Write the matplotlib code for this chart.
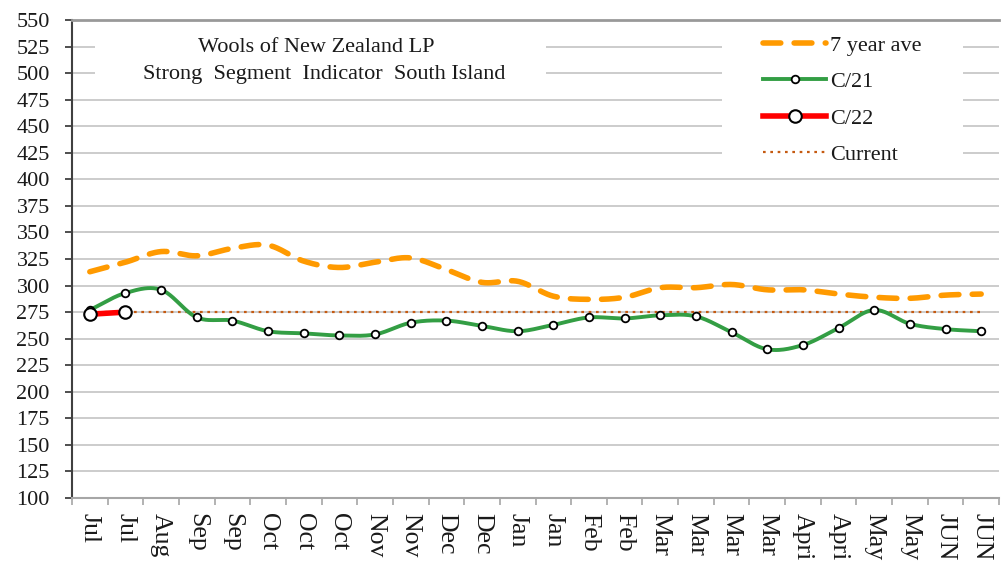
import numpy as np
import matplotlib
matplotlib.use("Agg")
import matplotlib.pyplot as plt
from matplotlib.patches import Rectangle

plt.rcParams['font.family'] = ['Liberation Serif', 'DejaVu Serif']

# x categories (as printed on the axis)
months = ["Jul", "Jul", "Aug", "Sep", "Sep", "Oct", "Oct", "Oct", "Nov", "Nov",
          "Dec", "Dec", "Jan", "Jan", "Feb", "Feb", "Mar", "Mar", "Mar", "Mar",
          "Apri", "Apri", "May", "May", "JUN", "JUN"]

# series values (cents/kg)
ave_7yr = [313, 322, 332, 328, 335, 338, 323, 317, 322, 326, 315, 303, 304,
           290, 287, 289, 298, 298, 301, 296, 296, 292, 289, 288, 291, 292]
c21 = [277, 293, 296, 270, 267, 257, 255, 253, 254, 265, 267, 262, 257,
       263, 270, 269, 272, 271, 256, 240, 244, 260, 277, 264, 259, 257]
c22 = [273, 275]
current_level = 275

yticks = list(range(100, 551, 25))


def smooth(x, y, n=24):
    # catmull-rom curve through the points, like excel's smoothed line
    x = np.asarray(x, float)
    y = np.asarray(y, float)
    if len(x) < 3:
        return x, y
    px = np.concatenate([[2 * x[0] - x[1]], x, [2 * x[-1] - x[-2]]])
    py = np.concatenate([[2 * y[0] - y[1]], y, [2 * y[-1] - y[-2]]])
    xs, ys = [], []
    t = np.linspace(0, 1, n, endpoint=False)
    for i in range(1, len(px) - 2):
        for p, out in ((px, xs), (py, ys)):
            p0, p1, p2, p3 = p[i - 1], p[i], p[i + 1], p[i + 2]
            out.append(0.5 * (2 * p1 + (-p0 + p2) * t
                              + (2 * p0 - 5 * p1 + 4 * p2 - p3) * t ** 2
                              + (-p0 + 3 * p1 - 3 * p2 + p3) * t ** 3))
    xs.append([x[-1]])
    ys.append([y[-1]])
    return np.concatenate(xs), np.concatenate(ys)


fig = plt.figure(figsize=(10.07, 5.69), dpi=100)
ax = fig.add_axes([72 / 1007, 1 - 498 / 569, 927 / 1007, 478 / 569])

x = np.arange(len(months))

# current level, dotted
ax.plot(x, [current_level] * len(x), color="#C55A11", lw=1.6,
        linestyle=(0, (1.2, 2.1)), zorder=3)

# 7 year average, dashed orange
sx, sy = smooth(x, ave_7yr)
ax.plot(sx, sy, color="#FF9A00", lw=4.0, linestyle=(0, (3.2, 2.4)),
        dash_capstyle="round", zorder=4)

# C/21 green with markers
sx, sy = smooth(x, c21)
ax.plot(sx, sy, color="#339E44", lw=2.8, solid_capstyle="round", zorder=5)
ax.plot(x, c21, linestyle="none", marker="o", ms=5.5, mfc="white", mec="black",
        mew=1.3, zorder=6)

# C/22 red with bigger markers
x22 = x[:len(c22)]
ax.plot(x22, c22, color="#FF0000", lw=4.0, solid_capstyle="round", zorder=7)
ax.plot(x22, c22, linestyle="none", marker="o", ms=9, mfc="white",
        mec="black", mew=1.5, zorder=8)

# legend proxies
h_ave, = ax.plot([], [], color="#FF9A00", lw=4.0, linestyle=(0, (3.2, 2.4)),
                 dash_capstyle="round")
h_21, = ax.plot([], [], color="#339E44", lw=2.8, marker="o", ms=5.5,
                mfc="white", mec="black", mew=1.3)
h_22, = ax.plot([], [], color="#FF0000", lw=4.0, marker="o", ms=9,
                mfc="white", mec="black", mew=1.5)
h_cur, = ax.plot([], [], color="#C55A11", lw=1.6, linestyle=(0, (1.2, 2.1)))

ax.set_xlim(-0.5, len(months) - 0.5)
ax.set_ylim(100, 550)
ax.set_yticks(yticks)
ax.set_yticklabels([str(v) for v in yticks], fontsize=16, color="#1a1a1a")
ax.set_xticks(x)
ax.set_xticklabels(months, rotation=270, fontsize=18.5, color="#1a1a1a",
                   va="top", ha="center")
ax.set_xticks(np.arange(-0.5, len(months) + 0.5, 1), minor=True)
ax.tick_params(axis="x", which="major", length=0, pad=11)
ax.tick_params(axis="x", which="minor", length=5, width=1.2, color="#A6A6A6")
ax.tick_params(axis="y", length=5, width=1.3, color="#404040", pad=11)

ax.set_axisbelow(True)
ax.grid(axis="y", color="#C8C8C8", lw=1.3)
ax.spines["right"].set_visible(False)
ax.spines["top"].set_color("#999999")
ax.spines["top"].set_linewidth(2)
ax.spines["left"].set_color("#404040")
ax.spines["left"].set_linewidth(1.5)
ax.spines["bottom"].set_color("#A6A6A6")
ax.spines["bottom"].set_linewidth(1.5)

# white boxes behind the title and legend (they hide the gridlines)
ax.add_patch(Rectangle((0.025, 0.855), 0.486, 0.135, transform=ax.transAxes,
                       facecolor="white", edgecolor="none", zorder=1))
ax.add_patch(Rectangle((0.701, 0.686), 0.26, 0.304, transform=ax.transAxes,
                       facecolor="white", edgecolor="none", zorder=1))

ax.text(0.263, 0.943, "Wools of New Zealand LP", transform=ax.transAxes,
        ha="center", va="center", fontsize=16, color="#1a1a1a", zorder=2)
ax.text(0.272, 0.886, "Strong  Segment  Indicator  South Island",
        transform=ax.transAxes, ha="center", va="center", fontsize=16,
        color="#1a1a1a", zorder=2)

leg = ax.legend([h_ave, h_21, h_22, h_cur],
                ["7 year ave", "C/21", "C/22", "Current"],
                loc="upper left", bbox_to_anchor=((763 - 72) / 927, (498 - 35) / 478),
                frameon=False, fontsize=16, handlelength=2.85, handletextpad=0.15,
                labelspacing=0.72, borderpad=0, borderaxespad=0, numpoints=1)
for t in leg.get_texts():
    t.set_color("#1a1a1a")

fig.savefig("out.png", dpi=100)
